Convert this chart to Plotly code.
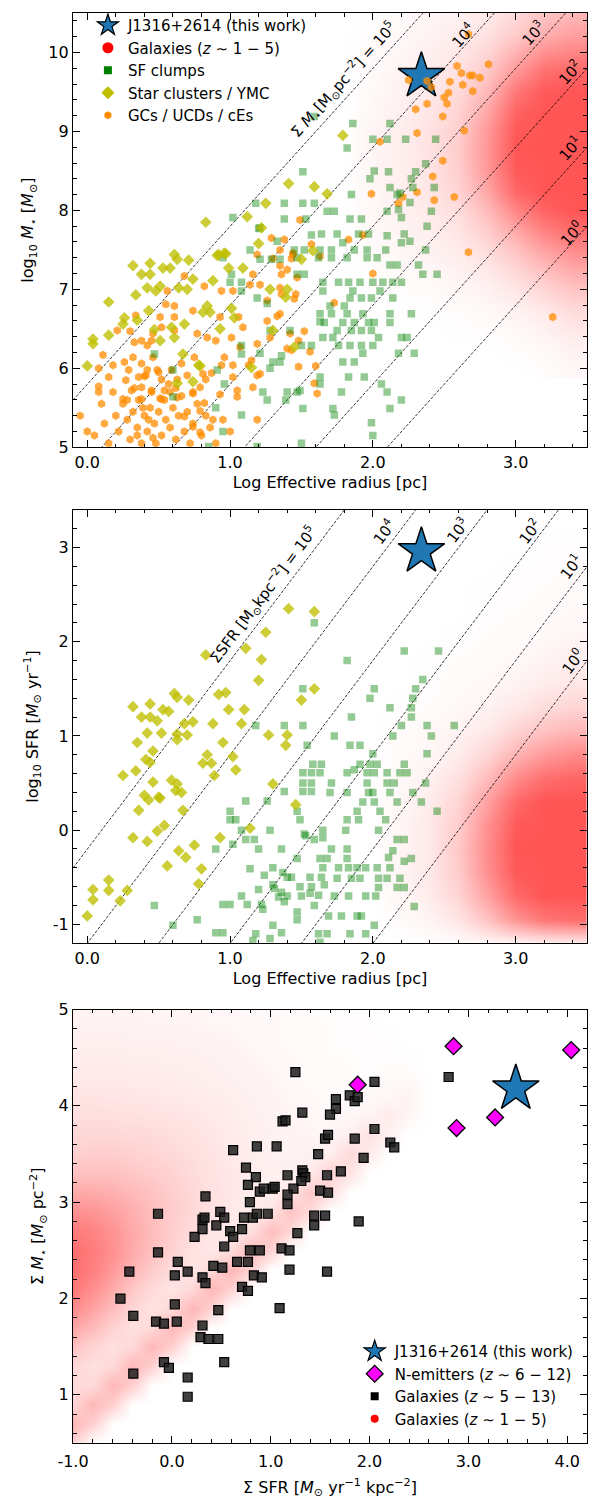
import math
import plotly.graph_objects as go

# ---------------- data ----------------
# Panel 1 : log Re [pc] vs log M*
ym1_x = [0.00,0.04,0.04,0.15,0.15,0.25,0.26,0.35,0.34,0.32,
         0.38,0.42,0.44,0.44,0.43,0.47,0.51,0.48,0.51,0.53,
         0.58,0.61,0.63,0.71,0.64,0.70,0.74,0.68,0.59,0.61,
         0.84,0.81,0.86,0.88,0.83,0.92,0.96,0.99,0.93,0.78,
         1.09,1.12,1.20,1.22,1.25,1.28,1.40,1.39,1.30,1.41,
         1.45,1.79,1.59,1.68,0.91,0.97,1.58,1.50,1.01,1.03,
         1.15,0.79,0.74,0.67,0.63]
ym1_y = [6.03,6.37,6.31,6.42,6.84,6.56,6.64,6.61,6.93,7.30,
         7.19,7.02,7.33,7.19,6.73,6.49,6.35,6.98,7.04,7.27,
         7.27,7.44,7.38,7.37,7.02,7.00,7.13,6.56,6.52,6.39,
         6.79,6.71,6.71,7.11,7.85,7.44,7.46,7.27,6.50,6.04,
         7.27,7.92,7.58,7.78,8.09,7.00,7.00,6.90,6.48,8.34,
         6.27,8.95,8.30,8.21,7.43,7.45,7.49,7.38,6.76,6.64,
         6.01,6.03,5.83,6.18,5.81]

gc_x = [0.11,0.21,0.30,0.34,0.33,0.38,0.42,0.45,0.51,0.55,
        0.56,0.61,0.61,0.61,0.52,0.46,0.68,0.74,0.77,0.75,
        0.82,0.84,0.90,0.93,0.94,0.96,1.01,1.02,1.06,1.02,
        1.07,1.09,1.14,1.16,1.19,1.21,1.15,1.19,1.29,1.30,
        1.26,1.28,1.35,1.36,1.36,1.35,1.44,1.43,1.46,1.49,
        1.42,1.48,1.43,
        0.18,0.26,0.32,0.29,0.38,0.42,0.46,0.49,0.41,0.36,
        0.52,0.59,0.66,0.63,0.70,0.74,0.79,0.83,0.87,0.54,
        0.45,0.38,0.31,0.08,0.08,0.15,0.25,0.38,0.52,0.63,
        0.93,1.05,1.16,
        0.05,0.12,0.15,0.20,0.22,0.25,0.28,0.30,0.32,0.35,
        0.36,0.38,0.40,0.42,0.44,0.45,0.47,0.48,0.50,0.52,
        0.54,0.55,0.57,0.58,0.60,0.62,0.64,0.66,0.68,0.70,
        0.72,0.74,0.77,0.80,0.83,0.86,0.90,0.95,1.00,0.18,
        0.27,0.33,0.40,0.50,0.58,0.10,0.00,-0.05,0.08,0.62,
        0.35,0.46,0.28,0.39,0.51,0.43,
        1.35,1.38,1.44,1.57,1.63,1.83,1.93,1.45,1.47,1.35,
        1.40,1.52,1.48,1.40,1.56,1.60,1.59,1.61,1.73,2.00,
        1.99,2.05,2.31,2.42,2.31,2.21,2.18,2.43,1.26,1.33,
        1.19,1.13,1.21,1.02,0.94,0.81,0.74,0.82,0.79,0.68,
        0.88,0.74,0.79,1.05,1.19,
        2.67,2.59,2.62,2.68,2.70,2.75,2.81,2.54,2.63,2.70,
        2.53,2.50,2.52,2.38,2.30,2.49,2.25,2.38,2.41,2.64,
        2.49,2.57,2.67,3.26]
gc_y = [6.17,6.48,6.47,6.67,6.33,6.35,6.29,6.35,6.65,6.81,
        6.98,6.79,6.65,6.48,6.52,6.44,7.17,6.73,6.44,6.14,
        7.04,6.39,6.35,6.65,6.98,6.14,6.39,6.98,6.65,6.04,
        6.27,6.52,7.06,7.19,7.44,7.06,6.10,5.91,7.65,7.39,
        6.86,6.39,7.30,7.19,6.94,6.69,7.44,7.39,6.94,7.88,
        6.44,6.02,6.23,
        6.04,6.08,6.14,5.98,6.06,5.98,6.14,5.98,5.91,5.89,
        5.86,5.98,6.06,5.86,5.91,5.70,5.76,5.86,5.94,5.72,
        5.72,5.76,5.72,5.77,5.70,5.89,5.61,5.61,5.61,5.63,
        5.67,5.72,5.76,
        5.15,5.30,5.05,5.40,5.20,5.55,5.35,5.10,5.45,5.25,
        5.60,5.05,5.40,5.20,5.50,5.70,5.30,5.05,5.45,5.15,
        5.60,5.35,5.80,5.25,5.50,5.10,5.40,5.65,5.20,5.45,
        5.05,5.30,5.55,5.15,5.40,5.25,5.05,5.35,5.20,5.70,
        5.85,5.75,5.90,5.95,5.70,5.55,5.20,5.40,6.00,5.75,
        5.15,5.12,5.60,5.50,5.62,5.35,
        7.50,7.63,7.46,7.57,7.42,7.63,7.69,6.88,7.15,7.02,
        7.25,6.47,6.35,6.25,6.21,6.03,5.81,5.68,6.83,7.20,
        8.21,8.87,8.98,8.43,8.23,8.17,8.09,8.13,6.60,6.66,
        6.31,6.04,5.93,5.89,6.04,5.93,5.68,5.56,5.46,5.39,
        5.35,5.26,5.19,5.64,5.35,
        10.23,9.83,9.74,9.71,9.71,9.68,9.85,9.63,9.59,9.51,
        9.49,9.43,9.35,9.35,9.28,9.19,9.65,9.64,9.56,9.01,
        8.63,8.17,7.47,6.65]

sf1_x = [2.00,2.10,2.23,2.44,1.82,1.51,2.01,2.11,1.98,2.30,
         2.37,2.12,2.27,2.28,2.17,2.43,1.85,1.38,1.51,1.59,
         1.18,1.68,1.73,1.02,1.38,1.53,1.84,1.92,2.20,2.38,
         2.26,1.20,1.33,1.57,1.64,1.75,1.90,1.97,2.10,2.22,
         1.14,1.21,1.29,1.35,1.45,1.52,1.63,1.71,1.79,1.87,
         1.96,2.09,2.20,2.26,2.37,1.47,1.62,1.71,1.82,1.96,
         2.03,2.12,2.17,2.32,2.45,2.35,1.01,1.00,1.08,1.52,
         1.47,1.76,1.83,1.65,1.91,2.00,2.07,2.14,2.20,1.86,
         1.19,1.26,1.65,1.84,1.92,1.99,2.05,2.14,1.70,1.80,
         1.63,1.71,1.82,1.93,2.12,2.27,1.63,1.66,1.79,1.87,
         1.97,2.01,2.12,1.42,1.75,1.85,1.92,1.99,1.65,1.72,
         2.04,2.20,2.24,1.08,1.21,1.50,1.57,1.76,1.84,1.92,
         2.00,1.93,2.29,2.18,1.28,1.35,1.79,1.87,1.63,1.83,
         1.94,0.96,1.23,1.40,1.47,1.63,1.78,2.06,2.10,1.26,
         1.39,1.51,1.72,2.12,2.20,1.08,1.73,1.99,0.95,0.85,
         1.19,1.21,0.95,1.08,1.28,1.08,1.36,1.30,0.91,0.60,
         0.47,1.49,0.60,1.59,1.86,2.12,2.41,2.19,2.18,2.10,
         0.90,1.50,2.00]
sf1_y = [8.90,8.90,8.90,8.90,8.79,8.49,8.50,8.49,8.40,8.49,
         8.59,8.29,8.40,8.29,8.20,8.29,8.20,8.09,8.09,8.09,
         8.09,7.99,7.99,7.91,7.89,7.89,7.89,7.89,7.91,7.80,
         8.10,7.77,7.61,7.69,7.70,7.70,7.70,7.70,7.68,7.70,
         7.50,7.38,7.38,7.38,7.50,7.50,7.50,7.50,7.59,7.50,
         7.50,7.50,7.59,7.61,7.50,7.40,7.40,7.40,7.40,7.40,
         7.40,7.31,7.31,7.31,7.19,7.19,7.19,7.09,7.09,7.19,
         7.19,7.09,7.09,7.09,7.09,7.09,7.09,7.09,7.09,6.98,
         6.89,6.82,6.98,6.89,6.89,6.89,6.98,6.89,6.79,6.79,
         6.69,6.69,6.69,6.69,6.69,6.69,6.59,6.58,6.58,6.58,
         6.58,6.58,6.58,6.48,6.48,6.48,6.48,6.48,6.39,6.39,
         6.39,6.39,6.39,6.29,6.19,6.29,6.29,6.29,6.29,6.29,
         6.29,6.19,6.19,6.19,6.00,6.08,6.08,6.08,5.89,5.89,
         5.89,5.80,5.70,5.70,5.70,5.80,5.70,5.80,5.70,5.60,
         5.60,5.49,5.49,5.49,5.60,5.41,5.41,5.31,5.20,5.01,
         5.01,7.78,7.40,6.98,6.48,6.18,6.16,6.08,5.98,5.98,
         6.18,5.72,5.64,9.19,9.10,9.10,7.99,8.22,8.01,7.99,
         5.50,5.05,5.15]

# Panel 2 : log Re [pc] vs log SFR
ym2_x = [1.41,1.59,0.83,1.25,1.11,1.22,1.20,1.59,1.50,0.32,
         0.44,0.38,0.44,0.49,0.53,0.57,0.61,0.63,0.71,0.74,
         0.68,0.52,0.42,0.35,0.46,0.63,0.70,0.63,0.41,0.44,
         0.34,0.25,0.46,0.59,0.62,0.63,0.66,0.40,0.43,0.50,
         0.51,0.36,0.67,0.88,0.99,0.97,0.92,1.10,1.08,0.95,
         1.27,1.40,1.39,0.84,0.81,0.87,1.02,1.04,0.89,1.30,
         1.46,0.54,0.49,0.32,0.42,0.64,0.69,0.75,0.93,1.14,
         0.56,0.80,0.78,0.04,0.15,0.15,0.04,0.28,0.23,0.00]
ym2_y = [2.35,2.32,1.86,2.10,1.93,1.81,1.59,1.50,1.38,1.31,
         1.34,1.20,1.20,1.16,1.28,1.26,1.45,1.41,1.38,1.15,
         1.13,1.03,1.03,0.93,0.84,1.02,1.01,0.96,0.75,0.72,
         0.63,0.58,0.51,0.53,0.42,0.49,0.40,0.37,0.32,0.35,
         0.34,0.21,0.21,1.13,1.28,1.46,1.44,1.28,1.13,0.93,
         1.01,1.01,0.90,0.80,0.71,0.71,0.78,0.64,0.58,0.49,
         0.27,0.05,-0.01,-0.08,-0.12,-0.22,-0.29,-0.16,-0.08,0.02,
         -0.38,-0.41,-0.57,-0.63,-0.53,-0.64,-0.74,-0.64,-0.75,-0.91]

sf2_x = [1.59,1.51,1.18,1.38,1.51,1.54,1.58,1.51,1.57,1.51,
         1.57,1.51,1.57,1.38,1.26,1.11,1.00,1.00,1.04,1.47,
         1.49,1.08,1.28,1.53,1.11,1.17,1.20,0.90,1.02,1.36,
         1.47,1.14,1.30,1.37,1.24,1.40,1.43,1.20,1.30,1.36,
         1.40,1.49,1.57,1.56,1.22,1.38,1.08,0.95,0.47,0.77,
         0.60,0.90,1.16,1.28,1.36,1.47,1.47,1.30,1.12,1.00,0.95,
         2.22,2.46,1.82,2.35,2.01,2.30,1.98,2.28,2.12,2.27,
         1.85,2.27,2.20,2.38,2.57,1.73,2.14,2.41,1.84,1.91,
         2.38,2.00,1.64,1.91,1.98,2.03,2.22,1.63,1.82,1.87,
         1.96,2.01,2.10,2.19,2.24,1.71,1.96,2.10,2.15,2.37,
         1.70,1.82,1.97,2.00,2.12,2.17,2.01,1.93,2.28,2.34,
         1.89,2.05,2.09,1.90,1.82,1.65,1.81,2.04,2.45,2.17,
         2.22,1.65,1.52,1.82,1.71,1.59,1.63,1.68,1.82,2.11,
         2.14,2.22,2.27,1.65,1.76,1.83,1.89,1.95,2.03,2.12,
         1.56,1.64,1.75,1.85,1.91,2.04,2.10,2.19,1.31,1.66,
         2.04,2.17,2.22,1.34,1.50,1.62,1.73,1.83,1.95,2.02,
         1.59,1.23,1.69,1.78,1.89,1.92,2.29,2.01,1.84,1.95,
         1.68,1.62,1.18,1.63]
sf2_y = [2.20,1.50,1.11,1.11,1.11,0.90,0.70,0.61,0.61,0.50,
         0.50,0.41,0.41,0.41,0.31,0.31,0.20,0.11,0.11,0.20,
         0.11,0.00,0.00,-0.06,-0.10,-0.10,-0.20,-0.20,-0.15,-0.20,
         -0.30,-0.41,-0.40,-0.45,-0.48,-0.50,-0.50,-0.63,-0.58,-0.66,
         -0.70,-0.60,-0.60,-0.67,-0.79,-0.76,-0.70,-0.79,-0.80,-0.95,
         -1.01,-1.09,-1.17,-1.15,-1.09,-0.87,-0.95,-1.01,-0.79,-0.79,-1.09,
         1.90,1.90,1.80,1.60,1.50,1.50,1.40,1.40,1.30,1.30,
         1.20,1.20,1.11,1.11,1.11,1.00,1.00,1.00,0.90,0.90,
         0.81,0.81,0.70,0.70,0.70,0.70,0.70,0.61,0.61,0.64,
         0.61,0.61,0.61,0.61,0.61,0.50,0.50,0.50,0.50,0.50,
         0.40,0.40,0.40,0.40,0.40,0.30,0.30,0.30,0.40,0.30,
         0.20,0.20,0.11,0.11,0.11,0.00,0.00,0.00,0.20,-0.10,
         -0.10,-0.08,-0.04,-0.20,-0.20,-0.10,-0.30,-0.30,-0.30,-0.29,
         -0.22,-0.33,-0.30,-0.40,-0.40,-0.40,-0.40,-0.40,-0.40,-0.40,
         -0.50,-0.50,-0.51,-0.51,-0.51,-0.51,-0.51,-0.51,-0.62,-0.58,
         -0.61,-0.61,-0.61,-0.71,-0.70,-0.69,-0.70,-0.70,-0.70,-0.70,
         -0.80,-0.84,-0.91,-0.91,-0.91,-0.91,-0.81,-1.01,-1.10,-1.10,
         -1.10,-1.10,-1.10,-1.19]

# Panel 3 : Sigma SFR vs Sigma M*
hz_x = [1.25,2.05,1.80,1.85,1.88,1.66,1.66,1.60,1.32,1.12,
        1.15,2.05,1.55,1.58,1.85,2.21,2.25,1.94,0.62,0.86,
        1.06,1.48,0.75,0.85,0.77,0.89,0.93,1.02,1.04,1.17,
        1.32,1.33,1.35,1.31,1.23,1.17,1.17,1.57,1.50,1.58,
        1.71,0.34,0.79,-0.14,0.31,0.33,0.49,0.53,0.45,0.31,
        0.73,0.82,0.86,0.97,0.59,0.62,0.71,0.23,1.44,1.55,
        1.44,1.27,1.89,-0.14,0.53,0.79,0.89,1.11,1.19,0.06,
        0.66,0.77,0.42,0.51,0.16,0.03,0.31,0.34,0.83,0.91,
        0.71,0.77,1.19,1.57,-0.43,-0.52,-0.39,0.03,-0.16,-0.08,
        0.05,0.47,1.09,0.31,0.29,0.37,0.47,-0.08,-0.03,0.53,
        -0.39,0.16,0.16,2.80]
hz_y = [4.35,4.25,4.11,4.05,4.09,4.07,3.97,3.91,3.93,3.84,
        3.85,3.76,3.66,3.70,3.66,3.62,3.57,3.46,3.54,3.58,
        3.58,3.50,3.36,3.26,3.18,3.11,3.14,3.14,3.16,3.28,
        3.33,3.30,3.26,3.22,3.14,3.08,2.98,3.28,3.12,3.10,
        3.32,3.06,3.00,2.88,2.82,2.84,2.90,2.84,2.76,2.72,
        2.84,2.84,2.88,2.88,2.70,2.64,2.72,2.64,2.86,2.86,
        2.76,2.68,2.80,2.48,2.54,2.50,2.50,2.52,2.50,2.38,
        2.38,2.38,2.34,2.32,2.28,2.24,2.22,2.16,2.24,2.22,
        2.12,2.08,2.30,2.28,2.28,2.00,1.82,1.94,1.76,1.74,
        1.76,1.88,1.90,1.72,1.60,1.58,1.58,1.34,1.28,1.34,
        1.22,1.18,0.98,4.30]

nem_x = [1.88, 2.85, 2.88, 3.27, 4.04]
nem_y = [4.22, 4.62, 3.77, 3.88, 4.58]

# J1316+2614 in the three planes
j1316_re, j1316_mstar, j1316_sfr = 2.34, 9.70, 2.96
j1316_ssfr, j1316_smstar = 3.48, 4.18

# Iso-surface-density levels (log10 Sigma)
sigma_levels = [0, 1, 2, 3, 4, 5]

# Galaxy (z~1-5) density maps read from the clouds (0 = none, 1 = densest)
gal1_hx = [1.8, 2.0, 2.2, 2.4, 2.6, 2.8, 3.0, 3.2, 3.4]
gal1_hy = [6.0, 6.25, 6.5, 6.75, 7.0, 7.25, 7.5, 7.75, 8.0, 8.25,
           8.5, 8.75, 9.0, 9.25, 9.5, 9.75, 10.0, 10.25, 10.5]
gal1_density = [
    [0, 0, 0, 0, 0, 0, 0, 0.02, 0.05],
    [0, 0, 0, 0, 0, 0, 0.02, 0.04, 0.08],
    [0, 0, 0, 0, 0.01, 0.02, 0.04, 0.08, 0.14],
    [0, 0, 0, 0.01, 0.02, 0.04, 0.08, 0.14, 0.22],
    [0, 0, 0.02, 0.03, 0.05, 0.08, 0.15, 0.25, 0.35],
    [0, 0.02, 0.03, 0.05, 0.08, 0.13, 0.24, 0.38, 0.50],
    [0, 0.03, 0.05, 0.08, 0.12, 0.20, 0.36, 0.55, 0.68],
    [0, 0.04, 0.07, 0.10, 0.16, 0.30, 0.52, 0.75, 0.87],
    [0, 0.05, 0.08, 0.13, 0.21, 0.40, 0.72, 0.92, 1.00],
    [0, 0.05, 0.09, 0.15, 0.26, 0.52, 0.90, 1.00, 1.00],
    [0, 0.06, 0.10, 0.16, 0.29, 0.60, 0.97, 1.00, 1.00],
    [0, 0.06, 0.10, 0.17, 0.31, 0.62, 1.00, 1.00, 1.00],
    [0, 0.06, 0.10, 0.17, 0.29, 0.60, 0.98, 1.00, 1.00],
    [0, 0.05, 0.09, 0.15, 0.26, 0.52, 0.92, 1.00, 1.00],
    [0, 0.04, 0.08, 0.13, 0.22, 0.42, 0.80, 0.97, 1.00],
    [0, 0.03, 0.07, 0.11, 0.18, 0.32, 0.62, 0.85, 0.90],
    [0, 0.03, 0.05, 0.09, 0.14, 0.24, 0.45, 0.65, 0.72],
    [0, 0.02, 0.04, 0.07, 0.11, 0.17, 0.30, 0.46, 0.55],
    [0, 0.01, 0.03, 0.05, 0.08, 0.12, 0.22, 0.34, 0.42],
]

gal2_hx = [2.0, 2.2, 2.4, 2.6, 2.8, 3.0, 3.2, 3.4]
gal2_hy = [-1.2, -0.95, -0.7, -0.45, -0.2, 0.05, 0.3, 0.55, 0.8, 1.05,
           1.3, 1.55, 1.8, 2.05, 2.3, 2.55, 2.8, 3.05, 3.3]
gal2_density = [
    [0, 0, 0.01, 0.02, 0.04, 0.08, 0.10, 0.12],
    [0, 0.03, 0.06, 0.15, 0.35, 0.62, 0.80, 0.85],
    [0, 0.05, 0.11, 0.25, 0.55, 0.88, 1.00, 1.00],
    [0, 0.06, 0.13, 0.30, 0.65, 0.97, 1.00, 1.00],
    [0, 0.06, 0.13, 0.32, 0.68, 1.00, 1.00, 1.00],
    [0, 0.06, 0.13, 0.30, 0.65, 0.97, 1.00, 1.00],
    [0, 0.05, 0.11, 0.25, 0.55, 0.88, 1.00, 1.00],
    [0, 0.04, 0.08, 0.18, 0.40, 0.68, 0.85, 0.90],
    [0, 0.03, 0.05, 0.11, 0.24, 0.44, 0.60, 0.68],
    [0, 0.02, 0.04, 0.07, 0.13, 0.25, 0.36, 0.42],
    [0, 0.01, 0.02, 0.04, 0.07, 0.13, 0.20, 0.25],
    [0, 0, 0.01, 0.03, 0.04, 0.07, 0.11, 0.14],
    [0, 0, 0.01, 0.02, 0.03, 0.04, 0.07, 0.09],
    [0, 0, 0, 0.01, 0.02, 0.03, 0.04, 0.06],
    [0, 0, 0, 0, 0.01, 0.02, 0.03, 0.04],
    [0, 0, 0, 0, 0.01, 0.01, 0.02, 0.03],
    [0, 0, 0, 0, 0, 0.01, 0.01, 0.02],
    [0, 0, 0, 0, 0, 0, 0.01, 0.01],
    [0, 0, 0, 0, 0, 0, 0, 0],
]

gal3_hx = [-1.0, -0.8, -0.6, -0.4, -0.2, 0.0, 0.2, 0.4, 0.6, 0.8,
           1.0, 1.2, 1.4, 1.6, 1.8, 2.0, 2.2, 2.4, 2.6]
gal3_hy = [0.5, 0.7, 0.9, 1.1, 1.3, 1.5, 1.7, 1.9, 2.1, 2.3,
           2.5, 2.7, 2.9, 3.1, 3.3, 3.5, 3.7, 3.9, 4.1, 4.3,
           4.5, 4.7, 4.9]
gal3_density = [
    [0.28, 0, 0, 0, 0, 0, 0, 0, 0, 0, 0, 0, 0, 0, 0, 0, 0, 0, 0],
    [0.42, 0.28, 0, 0, 0, 0, 0, 0, 0, 0, 0, 0, 0, 0, 0, 0, 0, 0, 0],
    [0.24, 0.42, 0.28, 0, 0, 0, 0, 0, 0, 0, 0, 0, 0, 0, 0, 0, 0, 0, 0],
    [0.20, 0.22, 0.42, 0.28, 0, 0, 0, 0, 0, 0, 0, 0, 0, 0, 0, 0, 0, 0, 0],
    [0.24, 0.18, 0.22, 0.42, 0.28, 0, 0, 0, 0, 0, 0, 0, 0, 0, 0, 0, 0, 0, 0],
    [0.36, 0.25, 0.18, 0.22, 0.42, 0.28, 0, 0, 0, 0, 0, 0, 0, 0, 0, 0, 0, 0, 0],
    [0.52, 0.40, 0.26, 0.18, 0.22, 0.42, 0.28, 0, 0, 0, 0, 0, 0, 0, 0, 0, 0, 0, 0],
    [0.68, 0.54, 0.38, 0.24, 0.17, 0.22, 0.42, 0.28, 0, 0, 0, 0, 0, 0, 0, 0, 0, 0, 0],
    [0.80, 0.66, 0.50, 0.33, 0.22, 0.16, 0.22, 0.42, 0.28, 0, 0, 0, 0, 0, 0, 0, 0, 0, 0],
    [0.85, 0.75, 0.60, 0.44, 0.30, 0.20, 0.15, 0.22, 0.42, 0.28, 0, 0, 0, 0, 0, 0, 0, 0, 0],
    [0.85, 0.77, 0.65, 0.50, 0.37, 0.26, 0.17, 0.14, 0.20, 0.40, 0.26, 0, 0, 0, 0, 0, 0, 0, 0],
    [0.78, 0.73, 0.63, 0.51, 0.39, 0.29, 0.21, 0.15, 0.12, 0.18, 0.38, 0.24, 0, 0, 0, 0, 0, 0, 0],
    [0.65, 0.62, 0.56, 0.47, 0.38, 0.30, 0.23, 0.17, 0.13, 0.11, 0.16, 0.35, 0.22, 0, 0, 0, 0, 0, 0],
    [0.50, 0.50, 0.46, 0.41, 0.35, 0.29, 0.23, 0.18, 0.14, 0.11, 0.10, 0.14, 0.32, 0.20, 0, 0, 0, 0, 0],
    [0.36, 0.37, 0.36, 0.33, 0.30, 0.26, 0.21, 0.17, 0.14, 0.11, 0.09, 0.09, 0.12, 0.27, 0.16, 0, 0, 0, 0],
    [0.28, 0.29, 0.29, 0.27, 0.25, 0.22, 0.19, 0.16, 0.13, 0.10, 0.08, 0.07, 0.08, 0.10, 0.22, 0.12, 0, 0, 0],
    [0.23, 0.23, 0.23, 0.22, 0.21, 0.19, 0.17, 0.15, 0.12, 0.10, 0.08, 0.07, 0.06, 0.06, 0.09, 0.17, 0.08, 0, 0],
    [0.19, 0.19, 0.19, 0.18, 0.17, 0.16, 0.15, 0.13, 0.11, 0.09, 0.07, 0.06, 0.05, 0.04, 0.05, 0.07, 0.12, 0.05, 0],
    [0.16, 0.16, 0.15, 0.15, 0.14, 0.13, 0.12, 0.11, 0.10, 0.08, 0.07, 0.05, 0.04, 0.03, 0.03, 0.04, 0.05, 0.07, 0],
    [0.13, 0.13, 0.13, 0.12, 0.12, 0.11, 0.10, 0.09, 0.08, 0.07, 0.06, 0.04, 0.03, 0.03, 0.02, 0.02, 0.03, 0.03, 0],
    [0.11, 0.11, 0.11, 0.10, 0.10, 0.09, 0.09, 0.08, 0.07, 0.06, 0.05, 0.04, 0.03, 0.02, 0.02, 0.01, 0.01, 0.01, 0],
    [0.09, 0.09, 0.09, 0.08, 0.08, 0.08, 0.07, 0.07, 0.06, 0.05, 0.04, 0.03, 0.03, 0.02, 0.01, 0.01, 0.01, 0, 0],
    [0.07, 0.07, 0.07, 0.07, 0.06, 0.06, 0.06, 0.05, 0.05, 0.04, 0.04, 0.03, 0.02, 0.02, 0.01, 0.01, 0, 0, 0],
]

# ---------------- styles ----------------
FONT = "DejaVu Sans"
RED_CS = [[0, "rgb(255,255,255)"], [1, "rgb(255,85,85)"]]
C_GC = "rgba(255,140,0,0.75)"
C_SF = "rgba(0,128,0,0.42)"
C_YM = "rgba(191,191,0,0.78)"
C_STAR = "#1f77b4"
LOG2PI = math.log10(2 * math.pi)
X12 = [-0.1, 3.5]

fig = go.Figure()

# density clouds
for hx, hy, hz, ax in [(gal1_hx, gal1_hy, gal1_density, ("x", "y")),
                       (gal2_hx, gal2_hy, gal2_density, ("x2", "y2")),
                       (gal3_hx, gal3_hy, gal3_density, ("x3", "y3"))]:
    fig.add_trace(go.Heatmap(x=hx, y=hy, z=hz, colorscale=RED_CS, zmin=0, zmax=1,
                             zsmooth="best", showscale=False, hoverinfo="skip",
                             xaxis=ax[0], yaxis=ax[1]))

# iso-density dashed lines
dash_line = dict(color="black", width=0.8, dash="3px,1.6px")
for s in sigma_levels:
    fig.add_trace(go.Scatter(x=X12, y=[s + LOG2PI + 2 * x for x in X12], mode="lines",
                             line=dash_line, showlegend=False, hoverinfo="skip",
                             xaxis="x", yaxis="y"))
    fig.add_trace(go.Scatter(x=X12, y=[s + LOG2PI + 2 * (x - 3) for x in X12], mode="lines",
                             line=dash_line, showlegend=False, hoverinfo="skip",
                             xaxis="x2", yaxis="y2"))

star_marker = dict(symbol="star", size=35, color=C_STAR, line=dict(color="black", width=1.5))

# panel 1
fig.add_trace(go.Scatter(x=[j1316_re], y=[j1316_mstar], mode="markers", marker=star_marker,
                         showlegend=False, xaxis="x", yaxis="y"))
fig.add_trace(go.Scatter(x=gc_x, y=gc_y, mode="markers",
                         marker=dict(symbol="hexagon", size=8.5, color=C_GC, line=dict(width=0)),
                         showlegend=False, xaxis="x", yaxis="y"))
fig.add_trace(go.Scatter(x=sf1_x, y=sf1_y, mode="markers",
                         marker=dict(symbol="square", size=7.5, color=C_SF, line=dict(width=0)),
                         showlegend=False, xaxis="x", yaxis="y"))
fig.add_trace(go.Scatter(x=ym1_x, y=ym1_y, mode="markers",
                         marker=dict(symbol="diamond", size=9, color=C_YM, line=dict(width=0)),
                         showlegend=False, xaxis="x", yaxis="y"))

# panel 2
fig.add_trace(go.Scatter(x=sf2_x, y=sf2_y, mode="markers",
                         marker=dict(symbol="square", size=7.5, color=C_SF, line=dict(width=0)),
                         showlegend=False, xaxis="x2", yaxis="y2"))
fig.add_trace(go.Scatter(x=ym2_x, y=ym2_y, mode="markers",
                         marker=dict(symbol="diamond", size=9, color=C_YM, line=dict(width=0)),
                         showlegend=False, xaxis="x2", yaxis="y2"))
fig.add_trace(go.Scatter(x=[j1316_re], y=[j1316_sfr], mode="markers", marker=star_marker,
                         showlegend=False, xaxis="x2", yaxis="y2"))

# panel 3
fig.add_trace(go.Scatter(x=hz_x, y=hz_y, mode="markers",
                         marker=dict(symbol="square", size=9, color="rgba(30,30,30,0.85)",
                                     line=dict(color="black", width=1.2)),
                         showlegend=False, xaxis="x3", yaxis="y3"))
fig.add_trace(go.Scatter(x=nem_x, y=nem_y, mode="markers",
                         marker=dict(symbol="diamond", size=13, color="#ff00ff",
                                     line=dict(color="black", width=1.3)),
                         showlegend=False, xaxis="x3", yaxis="y3"))
fig.add_trace(go.Scatter(x=[j1316_ssfr], y=[j1316_smstar], mode="markers", marker=star_marker,
                         showlegend=False, xaxis="x3", yaxis="y3"))

# legend entries
def leg(name, marker, legend, ax):
    fig.add_trace(go.Scatter(x=[None], y=[None], mode="markers", name=name, marker=marker,
                             legend=legend, xaxis=ax[0], yaxis=ax[1]))

leg_star = dict(symbol="star", size=16, color=C_STAR, line=dict(color="black", width=1.2))
leg("J1316+2614 (this work)", leg_star, "legend", ("x", "y"))
leg("Galaxies (<i>z</i> ∼ 1 − 5)", dict(symbol="circle", size=11, color="red"), "legend", ("x", "y"))
leg("SF clumps", dict(symbol="square", size=8, color="green"), "legend", ("x", "y"))
leg("Star clusters / YMC", dict(symbol="diamond", size=10, color="#bfbf00"), "legend", ("x", "y"))
leg("GCs / UCDs / cEs", dict(symbol="hexagon", size=8, color="darkorange"), "legend", ("x", "y"))

leg("J1316+2614 (this work)", leg_star, "legend2", ("x3", "y3"))
leg("N-emitters (<i>z</i> ∼ 6 − 12)", dict(symbol="diamond", size=13, color="#ff00ff",
                                             line=dict(color="black", width=1.2)), "legend2", ("x3", "y3"))
leg("Galaxies (<i>z</i> ∼ 5 − 13)", dict(symbol="square", size=8, color="black"), "legend2", ("x3", "y3"))
leg("Galaxies (<i>z</i> ∼ 1 − 5)", dict(symbol="circle", size=8, color="red"), "legend2", ("x3", "y3"))

# line labels
ann = []
p1_labels = [("Σ <i>M</i><sub>⋆</sub>[M<sub>⊙</sub>pc<sup>−2</sup>] = 10<sup>5</sup>", 1.79, 9.66),
             ("10<sup>4</sup>", 2.63, 10.22), ("10<sup>3</sup>", 3.12, 10.25),
             ("10<sup>2</sup>", 3.38, 9.75), ("10<sup>1</sup>", 3.38, 8.79),
             ("10<sup>0</sup>", 3.39, 7.72)]
for t, x, y in p1_labels:
    ann.append(dict(text=t, x=x, y=y, xref="x", yref="y", showarrow=False, textangle=-48,
                    font=dict(size=15, color="black", family=FONT)))
p2_labels = [("ΣSFR [M<sub>⊙</sub>kpc<sup>−2</sup>] = 10<sup>5</sup>", 1.23, 2.50),
             ("10<sup>4</sup>", 2.08, 3.17), ("10<sup>3</sup>", 2.59, 3.19),
             ("10<sup>2</sup>", 3.10, 3.17), ("10<sup>1</sup>", 3.39, 2.80),
             ("10<sup>0</sup>", 3.40, 1.79)]
for t, x, y in p2_labels:
    ann.append(dict(text=t, x=x, y=y, xref="x2", yref="y2", showarrow=False, textangle=-53,
                    font=dict(size=15, color="black", family=FONT)))

def axis(**kw):
    base = dict(showline=True, linecolor="black", linewidth=1.3, mirror="allticks",
                ticks="inside", ticklen=7, tickwidth=1.1, tickcolor="black",
                showgrid=False, zeroline=False,
                tickfont=dict(size=16, color="black", family=FONT),
                minor=dict(ticks="inside", ticklen=3.5, tickwidth=0.9, tickcolor="black",
                           dtick=0.2, showgrid=False),
                title_font=dict(size=16, color="black", family=FONT))
    base.update(kw)
    return base

xt12 = dict(tickvals=[0, 1, 2, 3], ticktext=["0.0", "1.0", "2.0", "3.0"])
fig.update_layout(
    width=600, height=1499,
    margin=dict(l=73, r=13, t=4, b=53),
    plot_bgcolor="white", paper_bgcolor="white",
    font=dict(family=FONT, color="black"),
    xaxis=axis(domain=[0, 1], anchor="y", range=[-0.1, 3.5], **xt12,
               title=dict(text="Log Effective radius [pc]", standoff=6)),
    yaxis=axis(domain=[0.6963, 1.0], anchor="x", range=[5, 10.5], dtick=1,
               title=dict(text="log<sub>10</sub> <i>M</i><sub>⋆</sub> [<i>M</i><sub>⊙</sub>]", standoff=10)),
    xaxis2=axis(domain=[0, 1], anchor="y2", range=[-0.1, 3.5], **xt12,
                title=dict(text="Log Effective radius [pc]", standoff=6)),
    yaxis2=axis(domain=[0.3495, 0.6526], anchor="x2", range=[-1.2, 3.4],
                tickvals=[-1, 0, 1, 2, 3], ticktext=["-1", "0", "1", "2", "3"],
                title=dict(text="log<sub>10</sub> SFR [<i>M</i><sub>⊙</sub> yr<sup>−1</sup>]", standoff=10)),
    xaxis3=axis(domain=[0, 1], anchor="y3", range=[-1, 4.2],
                tickvals=[-1, 0, 1, 2, 3, 4],
                ticktext=["-1.0", "0.0", "1.0", "2.0", "3.0", "4.0"], ticklabelstandoff=4,
                title=dict(text="Σ SFR [<i>M</i><sub>⊙</sub> yr<sup>−1</sup> kpc<sup>−2</sup>]", standoff=12)),
    yaxis3=axis(domain=[0, 0.3031], anchor="x3", range=[0.5, 5], dtick=1,
                title=dict(text="Σ <i>M</i><sub>⋆</sub> [<i>M</i><sub>⊙</sub> pc<sup>−2</sup>]", standoff=10)),
    legend=dict(x=0.029, y=1.0028, xanchor="left", yanchor="top", bgcolor="rgba(0,0,0,0)",
                borderwidth=0, font=dict(size=15, color="black", family=FONT),
                itemsizing="trace", tracegroupgap=0),
    legend2=dict(x=0.548, y=0.0755, xanchor="left", yanchor="top", bgcolor="rgba(0,0,0,0)",
                 borderwidth=0, font=dict(size=15, color="black", family=FONT),
                 itemsizing="trace", tracegroupgap=0),
    annotations=ann,
    showlegend=True,
)

fig.write_html("out.html")
